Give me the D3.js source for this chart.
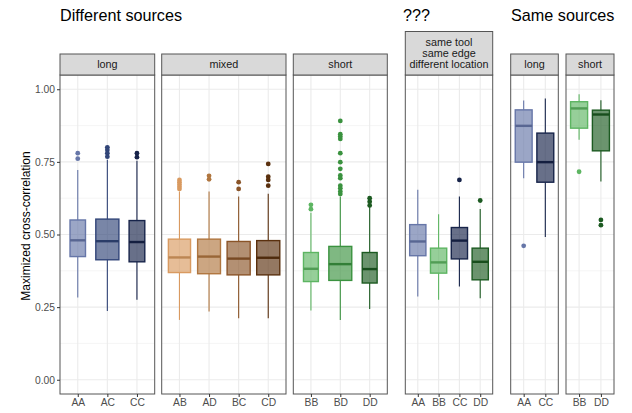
<!DOCTYPE html>
<html>
<head>
<meta charset="utf-8">
<script src="https://cdn.jsdelivr.net/npm/d3@7"></script>
<style>
  body { margin: 0; background: #fff; }
  text { font-family: "Liberation Sans", Arial, sans-serif; }
</style>
</head>
<body>
<div id="chart"></div>
<script>
// Group titles and facet strips
var groupTitles = ["Different sources", "???", "Same sources"];
var panelNames = ["long", "mixed", "short", "same tool\nsame edge\ndifferent location", "long", "short"];

// Categories in each panel
var panelCats = [
    ["AA", "AC", "CC"],
    ["AB", "AD", "BC", "CD"],
    ["BB", "BD", "DD"],
    ["AA", "BB", "CC", "DD"],
    ["AA", "CC"],
    ["BB", "DD"]
];

// Box stats per category: [lower whisker, q1, median, q3, upper whisker]
var boxStats = [
    [[0.283, 0.424, 0.480, 0.550, 0.722], [0.237, 0.413, 0.477, 0.553, 0.757], [0.275, 0.406, 0.474, 0.548, 0.754]],
    [[0.206, 0.369, 0.421, 0.484, 0.648], [0.235, 0.365, 0.424, 0.484, 0.648], [0.212, 0.361, 0.417, 0.476, 0.631], [0.212, 0.361, 0.420, 0.479, 0.640]],
    [[0.238, 0.338, 0.382, 0.438, 0.575], [0.206, 0.342, 0.398, 0.459, 0.630], [0.244, 0.333, 0.381, 0.438, 0.596]],
    [[0.287, 0.427, 0.476, 0.534, 0.654], [0.275, 0.367, 0.404, 0.453, 0.570], [0.321, 0.416, 0.479, 0.524, 0.631], [0.281, 0.344, 0.406, 0.453, 0.588]],
    [[0.694, 0.749, 0.874, 0.929, 0.961], [0.491, 0.680, 0.749, 0.849, 0.968]],
    [[0.826, 0.866, 0.934, 0.957, 0.983], [0.682, 0.788, 0.913, 0.928, 0.962]]
];

// Outliers per category
var outliers = [
    [[0.780, 0.761], [0.800, 0.791, 0.780, 0.768], [0.780, 0.766]],
    [[0.688, 0.680, 0.672, 0.664, 0.657], [0.702, 0.690], [0.680, 0.657], [0.743, 0.699, 0.688, 0.668]],
    [[0.602, 0.587], [0.891, 0.845, 0.837, 0.829, 0.780, 0.749, 0.726, 0.703, 0.694, 0.668, 0.659, 0.648, 0.639], [0.625, 0.613, 0.600]],
    [[], [], [0.688], [0.617]],
    [[0.461], []],
    [[0.716], [0.550, 0.532]]
];

// Relative box widths (varwidth)
var boxWidths = [
    [0.67, 1, 0.68],
    [0.96, 0.99, 1, 1],
    [0.65, 1, 0.65],
    [1, 1, 1, 1],
    [1, 1],
    [1, 1]
];

var yTicks = [0, 0.25, 0.5, 0.75, 1.0];
var yMinor = [0.125, 0.375, 0.625, 0.875];

var catColors = {
    AA: "#6676a8", AC: "#314578", CC: "#17244a",
    AB: "#d99a60", AD: "#b0763f", BC: "#8a5428", CD: "#5a300e",
    BB: "#5db562", BD: "#3a923f", DD: "#1c5a21"
};

var width = 632, height = 413;

var svg = d3.select("#chart")
    .append("svg")
    .attr("width", width)
    .attr("height", height);

// Layout of the six panels
var panelLeft = [60, 161.7, 293.3, 405.3, 510.7, 566];
var panelRight = [154.7, 286, 387.3, 492.7, 558.3, 614];
var panelTop = 75, panelBottom = 394;
var stripTops = [54, 54, 54, 31.5, 54, 54];
var groupX = [60, 403, 511];

var y = d3.scaleLinear()
    .domain([-0.049, 1.049])
    .range([panelBottom, panelTop]);

// Group titles
svg.selectAll(".groupTitle")
    .data(groupTitles)
    .enter()
    .append("text")
    .attr("class", "groupTitle")
    .attr("x", function(d, i) { return groupX[i]; })
    .attr("y", 21)
    .style("font-size", "16.2px")
    .style("fill", "#000")
    .text(function(d) { return d; });

// Y axis title
svg.append("text")
    .attr("transform", "translate(29.5,226) rotate(-90)")
    .attr("text-anchor", "middle")
    .style("font-size", "12px")
    .style("fill", "#000")
    .text("Maximized cross-correlation");

panelCats.forEach(function(cats, p) {
    var x0 = panelLeft[p], x1 = panelRight[p];
    var x = d3.scalePoint()
        .domain(cats)
        .range([x0, x1])
        .padding(0.6);
    var step = x.step();

    var g = svg.append("g").attr("class", "panel");

    // Grid lines
    g.selectAll(".minor")
        .data(yMinor)
        .enter()
        .append("line")
        .attr("x1", x0).attr("x2", x1)
        .attr("y1", function(d) { return y(d); })
        .attr("y2", function(d) { return y(d); })
        .style("stroke", "#f0f0f0")
        .style("stroke-width", 0.7);

    g.selectAll(".major")
        .data(yTicks)
        .enter()
        .append("line")
        .attr("x1", x0).attr("x2", x1)
        .attr("y1", function(d) { return y(d); })
        .attr("y2", function(d) { return y(d); })
        .style("stroke", "#ebebeb")
        .style("stroke-width", 1.1);

    g.selectAll(".vgrid")
        .data(cats)
        .enter()
        .append("line")
        .attr("x1", function(d) { return x(d); })
        .attr("x2", function(d) { return x(d); })
        .attr("y1", panelTop).attr("y2", panelBottom)
        .style("stroke", "#ebebeb")
        .style("stroke-width", 1.1);

    // Boxes
    cats.forEach(function(cat, i) {
        var s = boxStats[p][i];
        var col = catColors[cat];
        var cx = x(cat);
        var bw = step * 0.78 * boxWidths[p][i];

        g.append("line")
            .attr("x1", cx).attr("x2", cx)
            .attr("y1", y(s[0])).attr("y2", y(s[1]))
            .style("stroke", col)
            .style("stroke-width", 1.1);
        g.append("line")
            .attr("x1", cx).attr("x2", cx)
            .attr("y1", y(s[3])).attr("y2", y(s[4]))
            .style("stroke", col)
            .style("stroke-width", 1.1);

        g.append("rect")
            .attr("x", cx - bw / 2)
            .attr("y", y(s[3]))
            .attr("width", bw)
            .attr("height", y(s[1]) - y(s[3]))
            .style("fill", col)
            .style("fill-opacity", 0.65)
            .style("stroke", col)
            .style("stroke-width", 1.4);

        g.append("line")
            .attr("x1", cx - bw / 2).attr("x2", cx + bw / 2)
            .attr("y1", y(s[2])).attr("y2", y(s[2]))
            .style("stroke", d3.color(col).darker(0.4))
            .style("stroke-width", 2.4);

        g.selectAll(".out" + i)
            .data(outliers[p][i])
            .enter()
            .append("circle")
            .attr("cx", cx)
            .attr("cy", function(d) { return y(d); })
            .attr("r", 2.4)
            .style("fill", col);
    });

    // Panel border
    g.append("rect")
        .attr("x", x0).attr("y", panelTop)
        .attr("width", x1 - x0).attr("height", panelBottom - panelTop)
        .style("fill", "none")
        .style("stroke", "#555")
        .style("stroke-width", 1);

    // Strip
    g.append("rect")
        .attr("x", x0).attr("y", stripTops[p])
        .attr("width", x1 - x0).attr("height", panelTop - stripTops[p])
        .style("fill", "#d9d9d9")
        .style("stroke", "#555")
        .style("stroke-width", 1);

    var lines = panelNames[p].split("\n");
    var stripMid = (stripTops[p] + panelTop) / 2;
    g.append("text")
        .attr("text-anchor", "middle")
        .style("font-size", "10.8px")
        .style("fill", "#1a1a1a")
        .selectAll("tspan")
        .data(lines)
        .enter()
        .append("tspan")
        .attr("x", (x0 + x1) / 2)
        .attr("y", function(d, i) {
            return stripMid + 3.9 + (i - (lines.length - 1) / 2) * 11;
        })
        .text(function(d) { return d; });

    // X axis
    var xAxis = d3.axisBottom(x).tickSize(3).tickPadding(2);
    var ax = svg.append("g")
        .attr("transform", "translate(0," + panelBottom + ")")
        .call(xAxis);
    ax.select(".domain").remove();
    ax.selectAll(".tick line").style("stroke", "#333");
    ax.selectAll(".tick text")
        .style("font-size", "10.3px")
        .style("fill", "#4d4d4d")
        .style("font-family", "'Liberation Sans', Arial, sans-serif");
});

// Y axis on the first panel
var yAxis = d3.axisLeft(y)
    .tickValues(yTicks)
    .tickFormat(d3.format(".2f"))
    .tickSize(3)
    .tickPadding(2);

var ay = svg.append("g")
    .attr("transform", "translate(" + panelLeft[0] + ",0)")
    .call(yAxis);
ay.select(".domain").remove();
ay.selectAll(".tick line").style("stroke", "#333");
ay.selectAll(".tick text")
    .style("font-size", "10.3px")
    .style("fill", "#4d4d4d")
    .style("font-family", "'Liberation Sans', Arial, sans-serif");
</script>
</body>
</html>
